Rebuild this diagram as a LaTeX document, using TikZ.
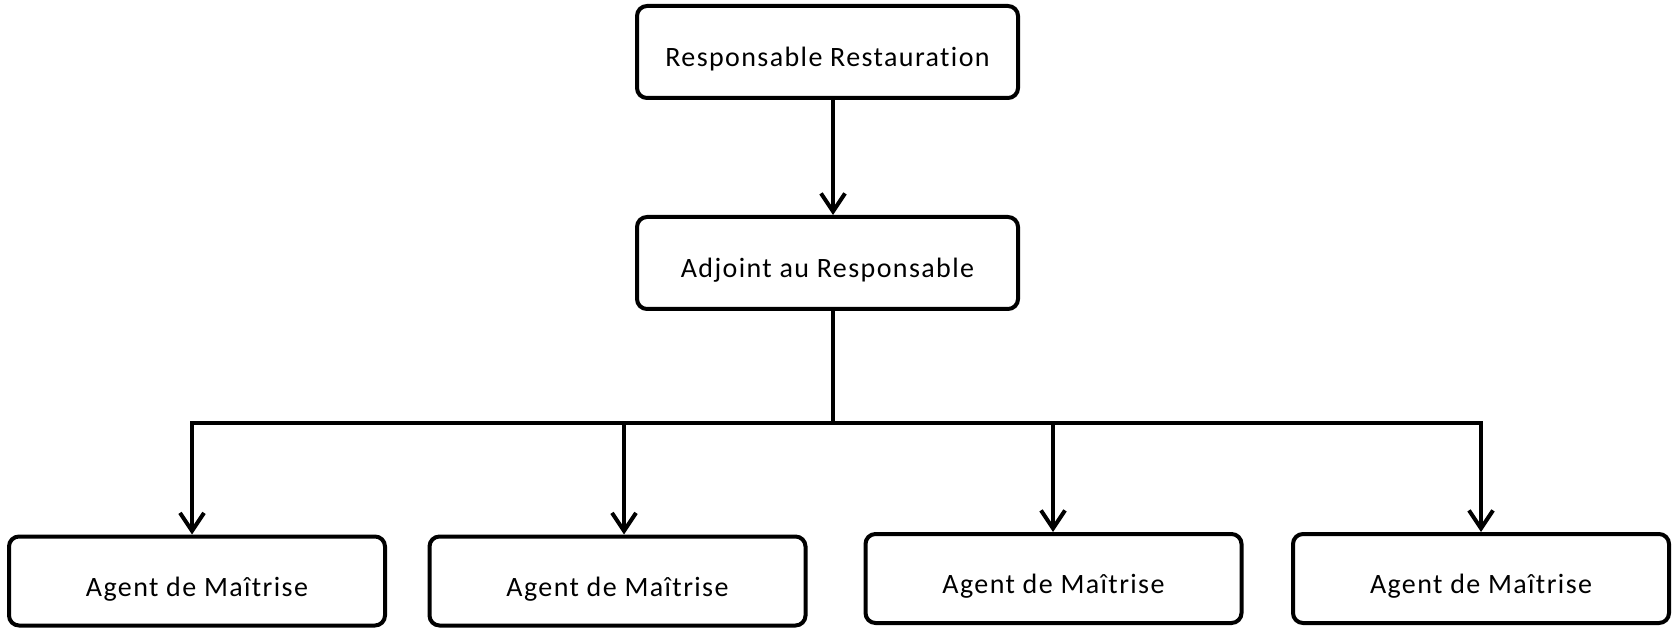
\documentclass[tikz,border=0pt]{standalone}
\usepackage{fontspec}
\setmainfont{Carlito}[Ligatures=NoCommon]
\usetikzlibrary{arrows.meta}
\begin{document}
\begin{tikzpicture}[x=0.5pt,y=-0.5pt,
  box/.style={draw=black, line width=2pt, rounded corners=5pt, fill=white,
    minimum width=190.5pt, minimum height=46pt, inner sep=0pt,
    text height=17pt, text depth=2pt,
    font=\fontsize{14pt}{16pt}\selectfont\addfontfeature{LetterSpace=5}},
  agentbox/.style={box, minimum width=188pt, minimum height=44.5pt},
  link/.style={draw=black, line width=2pt},
  arr/.style={link, -{Straight Barb[length=9pt,width=12pt,line width=2pt]}}]
  \useasboundingbox[fill=white] (0,0) rectangle (1673,630);

  % management chain
  \node[box] (resp) at (827.5,52) {Responsable Restauration};
  \node[box] (adj)  at (827.5,263) {Adjoint au Responsable};

  % supervisors
  \node[agentbox] (a1) at (197,581) {Agent de Maîtrise};
  \node[agentbox] (a2) at (617.5,581) {Agent de Maîtrise};
  \node[agentbox] (a3) at (1053.5,578.5) {Agent de Maîtrise};
  \node[agentbox] (a4) at (1481,578.5) {Agent de Maîtrise};

  % distribution bus
  \coordinate (spine) at (833,423);
  \coordinate (b1) at (192,423);
  \coordinate (b2) at (624,423);
  \coordinate (b3) at (1053,423);
  \coordinate (b4) at (1481,423);

  \draw[arr] (resp.south -| spine) -- (adj.north -| spine);
  \draw[link] (adj.south -| spine) -- (spine);
  \draw[link, line cap=rect] (b1) -- (b4);
  \draw[arr] (b1) -- (b1 |- a1.north);
  \draw[arr] (b2) -- (b2 |- a2.north);
  \draw[arr] (b3) -- (b3 |- a3.north);
  \draw[arr] (b4) -- (b4 |- a4.north);
\end{tikzpicture}
\end{document}
